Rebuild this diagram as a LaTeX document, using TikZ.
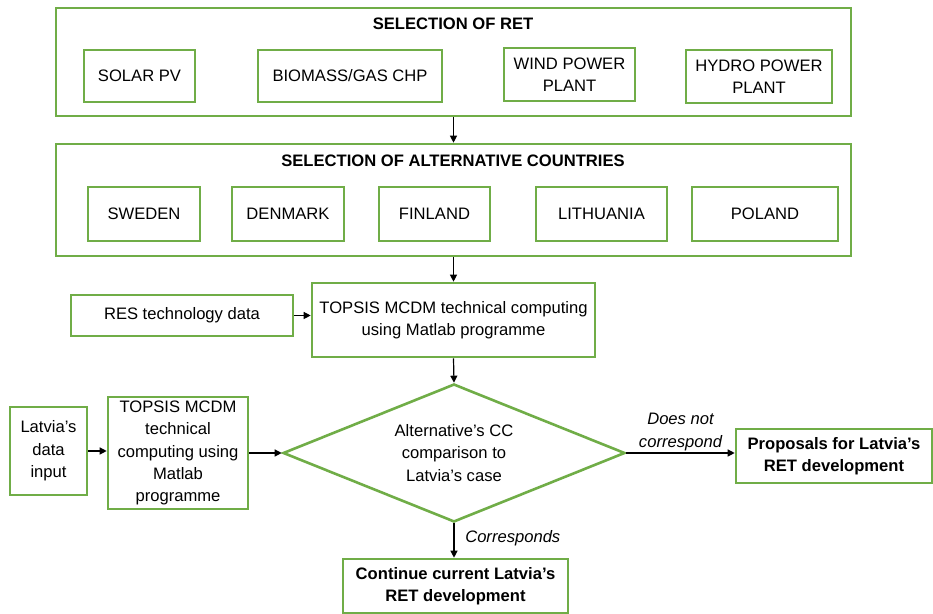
\documentclass[tikz,border=0pt]{standalone}
\usepackage{fontspec}
\setmainfont{Liberation Sans}
\usepackage{tikz}
\usetikzlibrary{arrows.meta}
\usetikzlibrary{shapes.geometric}
\definecolor{retgreen}{RGB}{112,173,71}
\tikzset{
  gbox/.style={draw=retgreen, line width=1.3pt, fill=white, inner sep=0pt, align=center, font=\fontsize{8.3}{11.2}\selectfont},
  boxtitle/.style={inner sep=0pt, font=\fontsize{8.3}{11.2}\selectfont\bfseries},
  flow/.style={-{Triangle[length=3.5pt,width=3.5pt]}, line width=0.6pt, black},
  flowlabel/.style={align=center, font=\fontsize{8.3}{11.2}\selectfont\itshape},
}
\newcommand{\gbox}[6]{\node[gbox, minimum width={(#4-#2)*0.5pt}, minimum height={(#5-#3)*0.5pt}] (#1) at ({(#2+#4)/2},{(#3+#5)/2}) {#6};}

\begin{document}
\begin{tikzpicture}[x=0.5pt, y=-0.5pt]
        \useasboundingbox (0,0) rectangle (933,614);
        % selection of RET
        \gbox{ret}{56}{8}{851}{116}{}
        \node[boxtitle] (rettitle) at (453,24) {SELECTION OF RET};
        \gbox{solar}{84}{50}{195}{102}{SOLAR PV}
        \gbox{biomass}{258}{50}{442}{102}{BIOMASS/GAS CHP}
        \gbox{wind}{504}{48}{635}{101}{WIND POWER\\PLANT}
        \gbox{hydro}{686}{50}{832}{103}{HYDRO POWER\\PLANT}
        % selection of countries
        \gbox{countries}{56}{144}{851}{256}{}
        \node[boxtitle] (countriestitle) at (453,161) {SELECTION OF ALTERNATIVE COUNTRIES};
        \gbox{sweden}{88}{187}{200}{241}{SWEDEN}
        \gbox{denmark}{232}{187}{344}{241}{DENMARK}
        \gbox{finland}{379}{187}{490}{241}{FINLAND}
        \gbox{lithuania}{536}{187}{667}{241}{LITHUANIA}
        \gbox{poland}{692}{187}{838}{241}{POLAND}
        % computing
        \gbox{resdata}{71}{295}{293}{336}{RES technology data}
        \gbox{topsis}{312}{283}{595}{357}{TOPSIS MCDM technical computing\\using Matlab programme}
        \gbox{latvia}{10}{407}{87}{495}{Latvia’s\\data\\input}
        \gbox{topsisb}{108}{397}{248}{509}{TOPSIS MCDM\\technical\\computing using\\Matlab\\programme}
        \node[gbox, diamond, aspect=2.5, minimum width=171pt, minimum height=69pt] (compare) at (454,453) {Alternative’s CC\\comparison to\\Latvia’s case};
        % results
        \gbox{proposals}{736}{429}{932}{483}{\bfseries Proposals for Latvia’s\\\bfseries RET development}
        \gbox{continue}{343}{559}{568}{613}{\bfseries Continue current Latvia’s\\\bfseries RET development}
        % arrows
        \draw[flow] (ret.south) -- (countries.north);
        \draw[flow] (countries.south) -- (topsis.north);
        \draw[flow] (resdata.east) -- (resdata.east -| topsis.west);
        \draw[flow] (topsis.south) -- (compare.north);
        \draw[flow] (latvia.east) -- (latvia.east -| topsisb.west);
        \draw[flow] (topsisb.east) -- (compare.west);
        \draw[flow] (compare.east) -- node[flowlabel, above, yshift=-2.5pt] (nolabel) {Does not\\correspond} (compare.east -| proposals.west);
        \draw[flow] (compare.south) -- node[flowlabel, right, xshift=2pt, yshift=1pt] (yeslabel) {Corresponds} (compare.south |- continue.north);
\end{tikzpicture}
\end{document}
